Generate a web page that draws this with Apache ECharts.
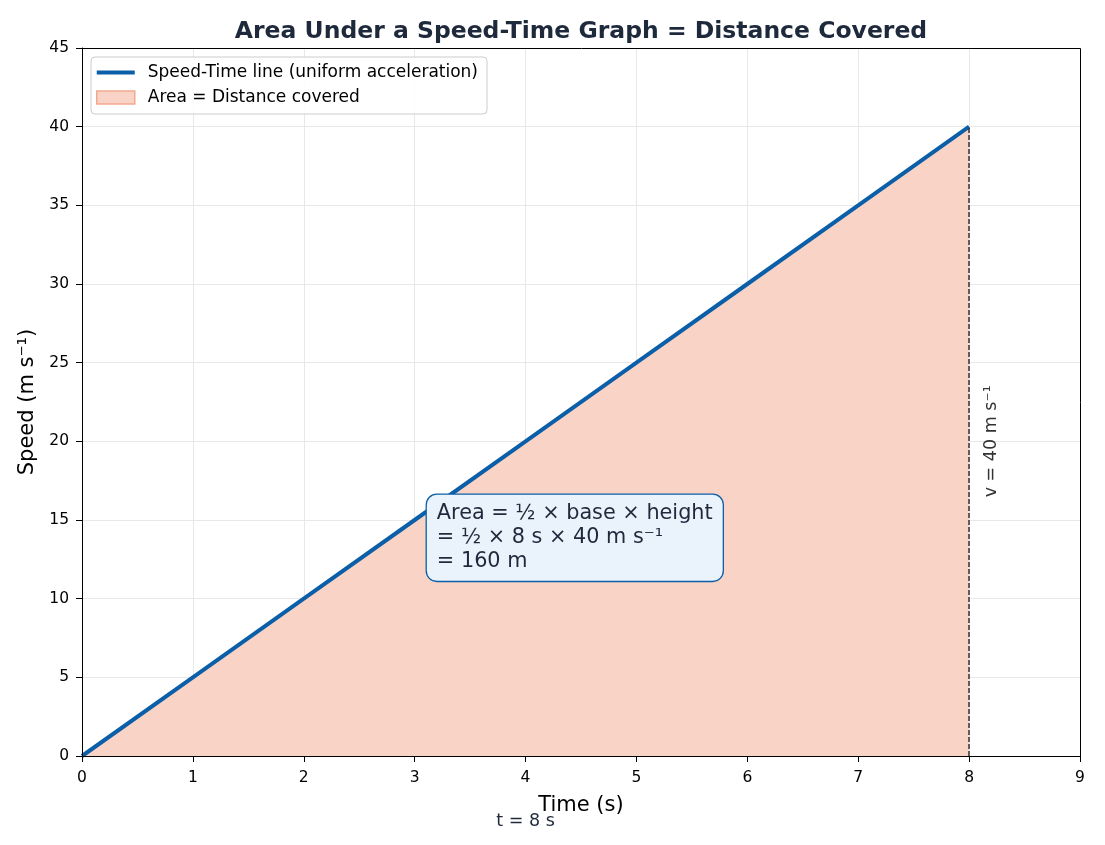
<!DOCTYPE html>
<html>
<head>
<meta charset="utf-8">
<script src="https://cdn.jsdelivr.net/npm/echarts@6/dist/echarts.min.js"></script>
<style>html,body{margin:0;padding:0;background:#fff;}#chart{width:1105px;height:845px;}</style>
</head>
<body>
<div id="chart"></div>
<script>
const timeValues = [0, 1, 2, 3, 4, 5, 6, 7, 8];
const speedValues = [0, 5, 10, 15, 20, 25, 30, 35, 40];
const finalTime = 8;
const finalSpeed = 40;
const lineName = 'Speed-Time line (uniform acceleration)';
const areaName = 'Area = Distance covered';
const annotationLines = ['Area = ½ × base × height', '= ½ × 8 s × 40 m s⁻¹', '= 160 m'];
const annotationAnchor = [3.11, 16.6];
const speedLabel = 'v = 40 m s⁻¹';
const speedLabelAnchor = [8.2, 20];
const timeLabel = 't = 8 s';
const timeLabelX = 4;

const FONT = '"DejaVu Sans", sans-serif';
const pts = timeValues.map((t, i) => [t, speedValues[i]]);
const BLUE = '#0b5ea8';

const chart = echarts.init(document.getElementById('chart'), null, {renderer: 'canvas'});
chart.setOption({
  animation: false,
  backgroundColor: '#ffffff',
  textStyle: {fontFamily: FONT},
  title: {
    text: 'Area Under a Speed-Time Graph = Distance Covered',
    left: 576, top: 15, textAlign: 'center',
    textStyle: {fontFamily: FONT, fontSize: 23.5, fontWeight: 'bold', color: '#1e293b'}
  },
  grid: {left: 82, right: 25, top: 48, bottom: 89},
  legend: {
    orient: 'vertical', left: 91, top: 57,
    padding: [7, 9, 8, 5],
    itemWidth: 38, itemHeight: 13, itemGap: 8,
    backgroundColor: 'rgba(255,255,255,0.85)',
    borderColor: '#cccccc', borderWidth: 1, borderRadius: 4,
    textStyle: {fontFamily: FONT, fontSize: 17, color: '#000', padding: [0, 0, 0, 8]},
    data: [
      {name: lineName, icon: 'path://M0,0 L0,0 Z M0,4.5 L38,4.5 L38,8.5 L0,8.5 Z M38,13 L38,13 Z',
       itemStyle: {color: BLUE, borderWidth: 0}},
      {name: areaName, icon: 'rect', itemStyle: {color: '#f8d3c6', borderColor: '#f1a98e', borderWidth: 1.5}}
    ]
  },
  xAxis: {
    type: 'value', min: 0, max: 9, interval: 1,
    name: 'Time (s)', nameLocation: 'middle', nameGap: 39,
    nameTextStyle: {fontFamily: FONT, fontSize: 21, color: '#000'},
    axisLine: {show: true, lineStyle: {color: '#000', width: 1}},
    axisTick: {show: true, inside: false, length: 6, lineStyle: {color: '#000'}},
    axisLabel: {fontFamily: FONT, fontSize: 15.5, color: '#000', margin: 14},
    splitLine: {show: true, lineStyle: {color: '#e8e8e8', width: 1}}
  },
  yAxis: {
    type: 'value', min: 0, max: 45, interval: 5,
    name: 'Speed (m s⁻¹)', nameLocation: 'middle', nameGap: 43,
    nameTextStyle: {fontFamily: FONT, fontSize: 21, color: '#000'},
    axisLine: {show: true, lineStyle: {color: '#000', width: 1}},
    axisTick: {show: true, inside: false, length: 6, lineStyle: {color: '#000'}},
    axisLabel: {fontFamily: FONT, fontSize: 15.5, color: '#000', margin: 13},
    splitLine: {show: true, lineStyle: {color: '#e8e8e8', width: 1}}
  },
  series: [
    {
      name: areaName, type: 'line', data: pts, symbol: 'none', z: 1,
      lineStyle: {width: 0, opacity: 0},
      itemStyle: {color: '#f8d3c6'},
      areaStyle: {color: '#f8d3c6', opacity: 1},
      markLine: {
        silent: true, symbol: ['none', 'none'],
        lineStyle: {color: '#333333', type: [5, 2], width: 1.5},
        label: {show: false},
        data: [[{coord: [finalTime, 0]}, {coord: [finalTime, finalSpeed]}]]
      }
    },
    {
      name: lineName, type: 'line', data: pts, symbol: 'none', z: 3,
      lineStyle: {color: BLUE, width: 4},
      itemStyle: {color: BLUE}
    }
  ]
});

function addAnnotations() {
  const a = chart.convertToPixel({gridIndex: 0}, annotationAnchor);
  const v = chart.convertToPixel({gridIndex: 0}, speedLabelAnchor);
  const t = chart.convertToPixel({gridIndex: 0}, [timeLabelX, 0]);
  const tl = chart.convertToPixel({gridIndex: 0}, [0, 45]);
  const br = chart.convertToPixel({gridIndex: 0}, [9, 0]);
  const x0 = Math.round(tl[0]) + 0.5, y0 = Math.round(tl[1]) + 0.5;
  const x1 = Math.round(br[0]) + 0.5, y1 = Math.round(br[1]) + 0.5;
  chart.setOption({
    graphic: [
      {
        type: 'rect', z: 50, silent: true,
        shape: {x: x0, y: y0, width: x1 - x0, height: y1 - y0},
        style: {fill: 'none', stroke: '#000', lineWidth: 1}
      },
      {
        type: 'text', x: a[0], y: a[1], z: 10,
        style: {
          text: annotationLines.join('\n'),
          font: '20.8px ' + FONT, fill: '#1e293b', lineHeight: 24,
          backgroundColor: '#eaf2fb', borderColor: BLUE, borderWidth: 1.3,
          borderRadius: 10, padding: [7, 10, 7, 10],
          textAlign: 'left', textVerticalAlign: 'top'
        }
      },
      {
        type: 'text', x: v[0], y: v[1], rotation: Math.PI / 2, z: 10,
        style: {text: speedLabel, font: '17.5px ' + FONT, fill: '#333333', textAlign: 'center', textVerticalAlign: 'middle'}
      },
      {
        type: 'text', x: t[0], y: t[1] + 65, z: 10,
        style: {text: timeLabel, font: '17.5px ' + FONT, fill: '#1e293b', textAlign: 'center', textVerticalAlign: 'middle'}
      }
    ]
  });
}
addAnnotations();
</script>
</body>
</html>
